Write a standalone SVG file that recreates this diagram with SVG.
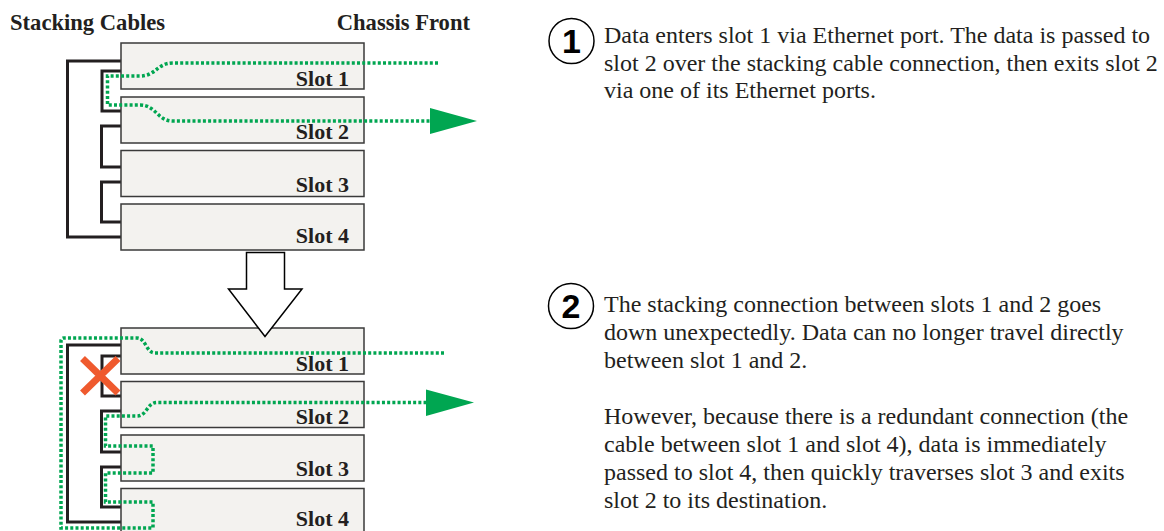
<svg xmlns="http://www.w3.org/2000/svg" width="1164" height="531" viewBox="0 0 1164 531">
<defs>
<style>
.box{fill:#f3f2ef;stroke:#3a3a3a;stroke-width:1.5}
.lbl{font-family:"Liberation Serif",serif;font-weight:bold;font-size:22px;fill:#231f20;text-anchor:end}
.hdr{font-family:"Liberation Serif",serif;font-weight:bold;font-size:22.6px;fill:#231f20}
.body{font-family:"Liberation Serif",serif;font-size:24px;fill:#231f20}
.num{font-family:"Liberation Sans",Arial,sans-serif;font-weight:bold;font-size:34px;fill:#000;text-anchor:middle}
.circ{fill:#fff;stroke:#000;stroke-width:1.5}
.cable{fill:none;stroke:#231f20;stroke-width:3}
.flow{fill:none;stroke:#00a651;stroke-width:3.5;stroke-dasharray:3 2.2}
.head{fill:#00a651}
</style>
</defs>
<rect width="1164" height="531" fill="#fff"/>

<text class="hdr" x="10" y="30">Stacking Cables</text>
<text class="hdr" x="470" y="30" text-anchor="end">Chassis Front</text>

<g id="connectors">
  <path class="cable" d="M121 61 H67.5 V237 H121"/>
  <path class="cable" d="M121 71 H102 V111 H121"/>
  <path class="cable" d="M121 126 H101.5 V167 H121"/>
  <path class="cable" d="M121 182 H101.5 V222 H121"/>
  <path class="cable" d="M121 345 H67.5 V522 H121"/>
  <path class="cable" d="M121 356 H102 V396 H121"/>
  <path class="cable" d="M121 411 H101.5 V452 H121"/>
  <path class="cable" d="M121 467 H101.5 V507 H121"/>
</g>

<g id="top-slot1"><rect class="box" x="121" y="43" width="243" height="46"/><text class="lbl" x="349" y="86">Slot 1</text></g>
<g id="top-slot2"><rect class="box" x="121" y="97" width="243" height="46"/><text class="lbl" x="349" y="138.5">Slot 2</text></g>
<g id="top-slot3"><rect class="box" x="121" y="150.5" width="243" height="46"/><text class="lbl" x="349" y="191.5">Slot 3</text></g>
<g id="top-slot4"><rect class="box" x="121" y="204" width="243" height="46"/><text class="lbl" x="349" y="243">Slot 4</text></g>

<g id="bottom-slot1"><rect class="box" x="121" y="328" width="243" height="46"/><text class="lbl" x="349" y="371">Slot 1</text></g>
<g id="bottom-slot2"><rect class="box" x="121" y="381.5" width="243" height="46"/><text class="lbl" x="349" y="423.5">Slot 2</text></g>
<g id="bottom-slot3"><rect class="box" x="121" y="435" width="243" height="46"/><text class="lbl" x="349" y="475.5">Slot 3</text></g>
<g id="bottom-slot4"><rect class="box" x="121" y="488.5" width="243" height="46"/><text class="lbl" x="349" y="526">Slot 4</text></g>

<g id="flows">
  <path class="flow" d="M438 63 H173 C157 63 156 76 140 76 H107.5 V105 H140 C156 105 157 121 173 121 H431"/>
  <polygon class="head" points="430,108 477,121 430,134"/>
  <path class="flow" d="M444 353 H155 C146 353 146 338 137 338 H64 Q61 338 61 341 V528 H153 V502 H105.5 V473 H153 V446 H105.5 V416 H137 C147 416 147 402.5 157 402.5 H427"/>
  <polygon class="head" points="426,389.5 474,402.5 426,416"/>
</g>

<g id="failure-x">
  <path d="M82.5 358.5 L118 393 M118 358.5 L82.5 393" stroke="#ef5a2e" stroke-width="7" fill="none"/>
</g>

<g id="transition-arrow">
  <polygon points="246.5,252.5 284.5,252.5 284.5,289 302,289 265,336.5 228.5,289 246.5,289" fill="#fff" stroke="#000" stroke-width="1.5" stroke-linejoin="miter"/>
</g>

<g id="step1">
  <circle class="circ" cx="571.5" cy="41" r="22.5"/>
  <text class="num" x="571.5" y="53">1</text>
  <text class="body" x="604" y="43">Data enters slot 1 via Ethernet port. The data is passed to</text>
  <text class="body" x="604" y="70.5">slot 2 over the stacking cable connection, then exits slot 2</text>
  <text class="body" x="604" y="98">via one of its Ethernet ports.</text>
</g>

<g id="step2">
  <circle class="circ" cx="571" cy="306" r="22.5"/>
  <text class="num" x="571" y="318">2</text>
  <text class="body" x="604" y="312">The stacking connection between slots 1 and 2 goes</text>
  <text class="body" x="604" y="340">down unexpectedly. Data can no longer travel directly</text>
  <text class="body" x="604" y="368">between slot 1 and 2.</text>
  <text class="body" x="604" y="424">However, because there is a redundant connection (the</text>
  <text class="body" x="604" y="452">cable between slot 1 and slot 4), data is immediately</text>
  <text class="body" x="604" y="480">passed to slot 4, then quickly traverses slot 3 and exits</text>
  <text class="body" x="604" y="508">slot 2 to its destination.</text>
</g>
</svg>
